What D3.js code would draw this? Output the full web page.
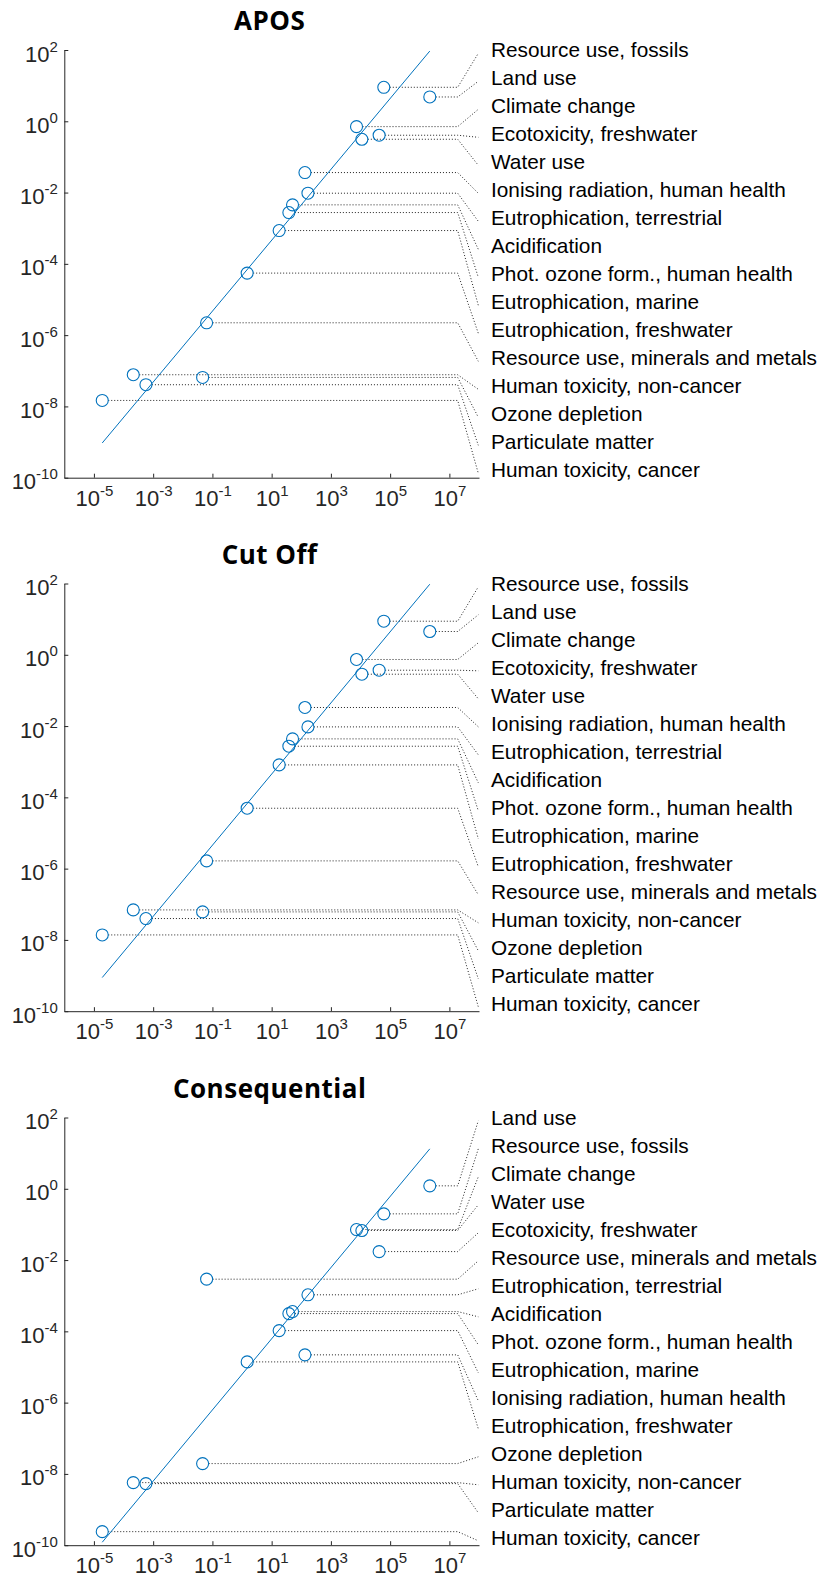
<!DOCTYPE html>
<html>
<head>
<meta charset="utf-8">
<script src="https://cdn.jsdelivr.net/npm/d3@7"></script>
<style>
  html, body { margin: 0; padding: 0; background: #fff; }
  svg { display: block; }
</style>
</head>
<body>
<div id="chart"></div>
<script>
// ---------- data ----------
const categories = [
  "Climate change",
  "Ozone depletion",
  "Human toxicity, cancer",
  "Human toxicity, non-cancer",
  "Particulate matter",
  "Ionising radiation, human health",
  "Phot. ozone form., human health",
  "Acidification",
  "Eutrophication, terrestrial",
  "Eutrophication, freshwater",
  "Eutrophication, marine",
  "Ecotoxicity, freshwater",
  "Land use",
  "Water use",
  "Resource use, fossils",
  "Resource use, minerals and metals"
];

// x values (shared by the three system models)
const xValues = [7.33e3, 0.0467, 1.91e-5, 2.13e-4, 5.70e-4, 1.33e2, 38.1, 50.7,
                 1.68e2, 1.49, 17.9, 4.25e4, 2.18e6, 1.11e4, 6.11e4, 0.0637];

const yApos = [0.708, 6.50e-8, 1.47e-8, 7.74e-8, 4.06e-8, 0.0364, 2.75e-3, 4.52e-3,
               9.59e-3, 5.50e-5, 8.59e-4, 0.406, 4.81, 0.313, 8.99, 2.22e-6];

const yCutOff = [0.738, 6.11e-8, 1.38e-8, 6.95e-8, 3.98e-8, 0.0332, 2.72e-3, 4.37e-3,
                 9.48e-3, 4.95e-5, 8.13e-4, 0.369, 4.50, 0.285, 8.75, 1.65e-6];

const yConseq = [0.0719, 1.95e-8, 2.40e-10, 5.70e-9, 5.35e-9, 2.19e-5, 3.15e-4, 3.59e-4,
                 1.06e-3, 1.39e-5, 1.05e-4, 0.0173, 1.21, 0.0675, 0.198, 2.91e-3];

// fitted line end values (at min and max x)
const fitApos = [9.42e-10, 93.3];
const fitCutOff = [8.81e-10, 95.5];
const fitConseq = [1.21e-10, 13.2];

const panelTitles = ["APOS", "Cut Off", "Consequential"];
const xTickExps = [-5, -3, -1, 1, 3, 5, 7];
const yTickExps = [2, 0, -2, -4, -6, -8, -10];

// ---------- layout ----------
const W = 823, H = 1578;
const panelTops = [50, 583.5, 1117.5];
const plotH = 427.7;
const plotLeft = 64.3, plotRight = 479;
const blue = "#0072BD";
const axisColor = "#262626";
const leaderBendX = 457.7, leaderEndX = 478.3, labelX = 491;
const leaderStart = 3.3, leaderStep = 28;

const panels = [
  { title: panelTitles[0], y: yApos, fit: fitApos },
  { title: panelTitles[1], y: yCutOff, fit: fitCutOff },
  { title: panelTitles[2], y: yConseq, fit: fitConseq }
];

const svg = d3.select("#chart").append("svg")
  .attr("width", W).attr("height", H)
  .attr("font-family", "'Liberation Sans', Arial, Helvetica, sans-serif");

const x = d3.scaleLog().domain([1e-6, 1e8]).range([plotLeft, plotRight]);

panels.forEach((p, pi) => {
  const top = panelTops[pi];
  const y = d3.scaleLog().domain([1e-10, 1e2]).range([top + plotH, top]);
  const g = svg.append("g");

  // title
  g.append("text")
    .attr("x", (plotLeft + plotRight) / 2 - 2)
    .attr("y", top - 20)
    .attr("text-anchor", "middle")
    .attr("font-family", "'Open Sans', 'Noto Sans', sans-serif")
    .attr("font-weight", "bold")
    .attr("font-size", 26)
    .attr("letter-spacing", 0.5)
    .attr("fill", "#000")
    .text(p.title);

  // y axis
  const yAxis = d3.axisLeft(y)
    .tickValues(yTickExps.map(e => Math.pow(10, e)))
    .tickSizeInner(-4).tickSizeOuter(0)
    .tickFormat(() => "");
  const ya = g.append("g").attr("transform", `translate(${plotLeft},0)`).call(yAxis);
  ya.select(".domain").attr("stroke", axisColor);
  ya.selectAll(".tick line").attr("stroke", axisColor);
  ya.selectAll(".tick text").remove();
  ya.selectAll(".tick").each(function(d) {
    const e = Math.round(Math.log10(d));
    const t = d3.select(this).append("text")
      .attr("x", -6.5).attr("y", 11)
      .attr("text-anchor", "end")
      .attr("fill", axisColor)
      .attr("font-size", 22);
    t.append("tspan").text("10");
    t.append("tspan").attr("font-size", 15).attr("dy", -10).text(String(e));
  });

  // x axis
  const xAxis = d3.axisBottom(x)
    .tickValues(xTickExps.map(e => Math.pow(10, e)))
    .tickSizeInner(-4).tickSizeOuter(0)
    .tickFormat(() => "");
  const xa = g.append("g").attr("transform", `translate(0,${top + plotH})`).call(xAxis);
  xa.select(".domain").attr("stroke", axisColor);
  xa.selectAll(".tick line").attr("stroke", axisColor);
  xa.selectAll(".tick text").remove();
  xa.selectAll(".tick").each(function(d) {
    const e = Math.round(Math.log10(d));
    const t = d3.select(this).append("text")
      .attr("x", 0).attr("y", 28)
      .attr("text-anchor", "middle")
      .attr("fill", axisColor)
      .attr("font-size", 22);
    t.append("tspan").text("10");
    t.append("tspan").attr("font-size", 15).attr("dy", -10).text(String(e));
  });

  // data rows sorted by y descending for labels
  const rows = categories.map((c, i) => ({ name: c, x: xValues[i], y: p.y[i] }))
    .sort((a, b) => b.y - a.y);

  // leader lines
  const line = d3.line();
  rows.forEach((r, k) => {
    const ly = top + leaderStart + k * leaderStep;
    const px = x(r.x), py = y(r.y);
    g.append("path")
      .attr("d", line([[px + 6, py], [leaderBendX, py], [leaderEndX, ly]]))
      .attr("fill", "none")
      .attr("stroke", "#222")
      .attr("stroke-width", 1)
      .attr("stroke-dasharray", "1,2");
    g.append("text")
      .attr("x", labelX)
      .attr("y", ly - 3.5)
      .attr("dominant-baseline", "central")
      .attr("font-size", 20.8)
      .attr("fill", "#000")
      .text(r.name);
  });

  // fitted line
  const xr = d3.extent(xValues);
  g.append("path")
    .attr("d", line([[x(xr[0]), y(p.fit[0])], [x(xr[1]), y(p.fit[1])]]))
    .attr("fill", "none")
    .attr("stroke", blue)
    .attr("stroke-width", 1);

  // points
  g.selectAll("circle.pt").data(rows).enter().append("circle")
    .attr("class", "pt")
    .attr("cx", d => x(d.x))
    .attr("cy", d => y(d.y))
    .attr("r", 6)
    .attr("fill", "none")
    .attr("stroke", blue)
    .attr("stroke-width", 1.1);
});
</script>
</body>
</html>
